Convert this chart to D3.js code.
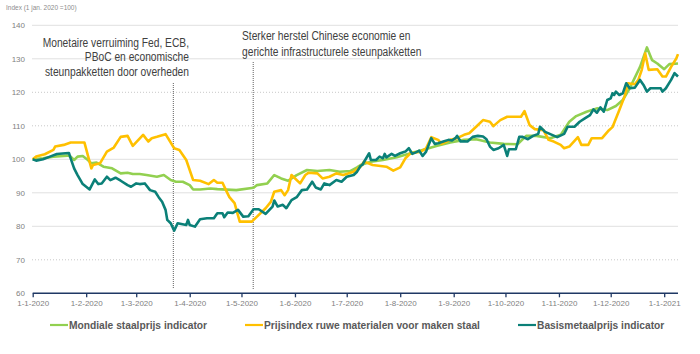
<!DOCTYPE html>
<html><head><meta charset="utf-8">
<script src="https://cdn.jsdelivr.net/npm/d3@7"></script>
<style>body{margin:0;background:#fff}svg{display:block}</style>
</head><body><svg id="c" width="700" height="354"></svg>
<script>
// x values are days since 1-1-2020
const staal = [[0,100],[6,100.3],[12,100.8],[20,101.1],[22,100.8],[24,99.8],[26,100.8],[29,101],[32,99.8],[34,98.8],[37,99],[41,97.8],[46,97.3],[51,95.8],[55,96],[58,95.6],[62,95.6],[66,95.3],[72,94.8],[76,95.3],[80,93.8],[83,93.3],[87,93.3],[91,92.3],[93,91],[97,91],[103,91.3],[107,91.1],[118,90.8],[128,91.5],[130,92.3],[136,92.8],[140,95.3],[144,94.3],[148,93.6],[153,95.3],[159,96.8],[165,96.5],[172,96.8],[178,96.3],[184,96.5],[188,97.6],[190,98.3],[196,99.3],[203,99.8],[211,100.6],[219,101.8],[226,102.8],[234,104],[242,105],[250,105.8],[257,106],[265,105],[273,104.6],[281,104.5],[286,107],[292,107],[300,106.3],[306,107.3],[311,111.2],[315,112.9],[321,114.2],[327,115.2],[333,114.7],[338,115.9],[342,117.7],[346,121.2],[352,127.6],[356,133.4],[359,129.6],[362,128.6],[366,126.9],[369,128.4],[374,128.6]];
const ruwe = [[0,100],[2,100.8],[7,101.5],[12,102.8],[13,103.8],[18,104.3],[22,105],[30,105],[34,97.3],[35,98.3],[39,98.8],[43,102.3],[47,103.5],[51,106.7],[55,107],[58,104],[64,107.3],[67,105.3],[69,106.3],[72,106.7],[77,107.5],[82,103.3],[85,102.8],[89,99.8],[93,93.8],[97,93.6],[102,92.6],[105,93.8],[107,93],[110,93],[112,90.8],[114,88.7],[117,86.9],[120,81.4],[127,81.4],[130,82.9],[135,85.4],[138,87.3],[140,90.3],[144,90.8],[146,89.3],[148,90.8],[150,95.3],[155,92.8],[158,95.3],[160,96],[165,95.8],[168,94.3],[172,94.8],[176,95.8],[180,95.3],[186,96.3],[190,97.8],[192,99.3],[197,98.3],[205,97.8],[209,96.6],[213,97.6],[216,100.3],[219,101.8],[225,102.3],[228,103.3],[231,106.6],[235,105.8],[237,104.6],[242,105.8],[246,106.3],[250,107.3],[253,107.8],[257,109.7],[261,111.7],[265,111.2],[267,109.9],[271,111.7],[275,112.7],[283,112.7],[285,114.4],[288,110.2],[291,109],[296,108.7],[299,105.8],[302,105.3],[306,104.3],[308,103.3],[311,103.8],[316,106.6],[318,104.3],[322,104.3],[324,106.3],[330,106.3],[334,108.7],[336,109.6],[340,114.7],[343,118.7],[345,122.7],[349,122.4],[351,123.7],[353,126.7],[355,131.6],[357,126.7],[362,126.9],[365,124.7],[367,124.7],[370,127.6],[373,130.1],[374,131.4]];
const basis = [[0,100],[2,99.6],[6,100],[10,100.8],[14,101.6],[19,101.8],[21,101.9],[22,100.3],[24,97.3],[26,95.3],[29,92.6],[33,91],[36,94],[38,92.6],[40,92.8],[43,94.8],[45,93.8],[48,94.5],[51,93.6],[55,92.3],[57,91.8],[60,92.8],[62,92.6],[65,92.8],[68,90.8],[71,90.3],[73,88.7],[75,87.3],[77,84.9],[78,81.9],[80,80.9],[82,78.7],[84,80.9],[89,80.4],[90,81.9],[91,80.4],[94,79.9],[97,82.1],[101,82.4],[105,82.4],[107,83.9],[110,83.9],[111,82.7],[113,84.1],[116,84],[119,84.9],[122,82.9],[125,83],[128,85.1],[131,85.1],[135,83.7],[139,85.9],[140,87.7],[142,85.9],[145,86.4],[147,85.4],[150,87.8],[153,88.7],[156,90.8],[159,91],[162,93.3],[164,91.6],[167,91],[169,92.8],[172,92.3],[176,93.8],[179,93.3],[182,94.8],[186,95.3],[188,96.3],[190,98],[191,98.3],[195,101.8],[196,99.8],[199,99.8],[201,100.8],[203,100.3],[204,101.6],[205,100.6],[208,101.6],[210,101],[213,101.8],[216,102.3],[218,103.3],[220,101.6],[223,102.3],[224,102.6],[226,101],[228,102.3],[231,106.3],[233,104.6],[235,104.8],[238,105.3],[241,105.8],[243,105.6],[245,106.3],[246,107],[248,105.3],[250,105.4],[252,105.3],[255,106.7],[258,107],[261,106.8],[263,106],[265,103.8],[267,102.8],[270,103.3],[273,104.3],[275,101],[276,103],[280,103],[282,106.7],[284,106.7],[287,106],[290,107],[293,107.6],[294,109.7],[297,108.2],[301,107.3],[304,106.6],[308,107.6],[310,109.7],[314,109.7],[317,111.2],[320,112.2],[323,113.2],[325,114.9],[327,113.9],[329,115.5],[331,114.2],[333,117.7],[335,118.2],[336,119.7],[337,119.2],[338,120.2],[340,119.2],[342,119.7],[344,122.7],[346,121.2],[349,121.4],[352,123.7],[354,122.2],[356,120.2],[358,121.2],[364,121.2],[365,120.2],[367,121.2],[370,123.7],[372,125.7],[374,124.7]];

const seriesNames = ["Mondiale staalprijs indicator","Prijsindex ruwe materialen voor maken staal","Basismetaalprijs indicator"];
const seriesColors = ["#92d050","#ffc000","#0b8078"];
const yTicks = [60,70,80,90,100,110,120,130,140];
const dottedTicks = [70,110,120];
const xTickDates = ["2020-01-01","2020-02-01","2020-03-01","2020-04-01","2020-05-01","2020-06-01","2020-07-01","2020-08-01","2020-09-01","2020-10-01","2020-11-01","2020-12-01","2021-01-01"];
const markerDays = [81.5, 127.8];
const note1 = ["Monetaire verruiming Fed, ECB,","PBoC en economische","steunpakketten door overheden"];
const note2 = ["Sterker herstel Chinese economie en","gerichte infrastructurele steunpakketten"];
const yTitle = "Index (1 jan. 2020 =100)";

const start = new Date(2020,0,1);
const toDate = d => new Date(start.getTime() + d*86400000);
const parse = s => { const [y,m,d] = s.split("-").map(Number); return new Date(y,m-1,d); };

const svg = d3.select("#c");
const x = d3.scaleTime().domain([start, new Date(2021,0,9)]).range([32.7, 678]);
const y = d3.scaleLinear().domain([60,140]).range([293.3, 25.3]);
const font = "'Liberation Sans', Arial, sans-serif";

// grid
svg.append("g").selectAll("line").data(yTicks.filter(t=>t>60)).join("line")
  .attr("x1",32).attr("x2",678).attr("y1",d=>y(d)).attr("y2",d=>y(d))
  .attr("stroke",d=>dottedTicks.includes(d)?"#c8c8c8":"#e0e0e0")
  .attr("stroke-width",1)
  .attr("stroke-dasharray",d=>dottedTicks.includes(d)?"1,2":null);

// y labels
svg.append("g").selectAll("text").data(yTicks).join("text")
  .attr("x",25).attr("y",d=>y(d)).attr("dy","0.35em").attr("text-anchor","end")
  .attr("font-family",font).attr("font-size",8).attr("fill","#7f7f7f").text(d=>d);

svg.append("text").attr("x",6).attr("y",10).attr("font-family",font).attr("font-size",6.5)
  .attr("fill","#8c8c8c").text(yTitle);

// marker lines
svg.append("g").selectAll("line").data(markerDays).join("line")
  .attr("x1",d=>x(toDate(d))).attr("x2",d=>x(toDate(d)))
  .attr("y1",(d,i)=>i===0?83:62).attr("y2",289)
  .attr("stroke","#606060").attr("stroke-width",1).attr("stroke-dasharray","1,1");

// lines
const line = d3.line().x(d=>x(toDate(d[0]))).y(d=>y(d[1]));
[staal,ruwe,basis].forEach((s,i)=>{
  svg.append("path").datum(s).attr("d",line).attr("fill","none")
    .attr("stroke",seriesColors[i]).attr("stroke-width",2.6).attr("stroke-linejoin","round");
});

// x axis
const xa = svg.append("g").attr("transform","translate(0,293.3)")
  .call(d3.axisBottom(x).tickValues(xTickDates.map(parse)).tickSize(4).tickSizeOuter(0)
    .tickFormat(d=>`${d.getDate()}-${d.getMonth()+1}-${d.getFullYear()}`));
xa.select(".domain").attr("stroke","#1f3864").attr("stroke-width",1.5).attr("d","M32.7,0H678");
xa.selectAll(".tick line").attr("stroke","#1f3864").attr("stroke-width",1.3);
xa.selectAll(".tick text").attr("font-family",font).attr("font-size",8).attr("fill","#7f7f7f").attr("y",7);

// annotations (condensed font look via horizontal scale)
svg.append("g").attr("transform","translate(189,0) scale(0.82,1)")
  .append("text").attr("font-family",font).attr("font-size",12.5).attr("fill","#404040")
  .attr("text-anchor","end").selectAll("tspan").data(note1).join("tspan")
  .attr("x",0).attr("y",(d,i)=>47+i*14.5).text(d=>d);
svg.append("g").attr("transform","translate(242,0) scale(0.82,1)")
  .append("text").attr("font-family",font).attr("font-size",12.5).attr("fill","#404040")
  .selectAll("tspan").data(note2).join("tspan")
  .attr("x",0).attr("y",(d,i)=>40+i*16).text(d=>d);

// legend
const legX = [50,245,518];
const leg = svg.append("g").selectAll("g").data(seriesNames).join("g")
  .attr("transform",(d,i)=>`translate(${legX[i]},325)`);
leg.append("line").attr("x1",0).attr("x2",18).attr("stroke",(d,i)=>seriesColors[i]).attr("stroke-width",2.2);
leg.append("text").attr("transform","translate(19,0) scale(0.89,1)").attr("dy","0.35em")
  .attr("font-family",font).attr("font-weight","bold")
  .attr("font-size",11.5).attr("fill","#595959").text(d=>d);
</script></body></html>
